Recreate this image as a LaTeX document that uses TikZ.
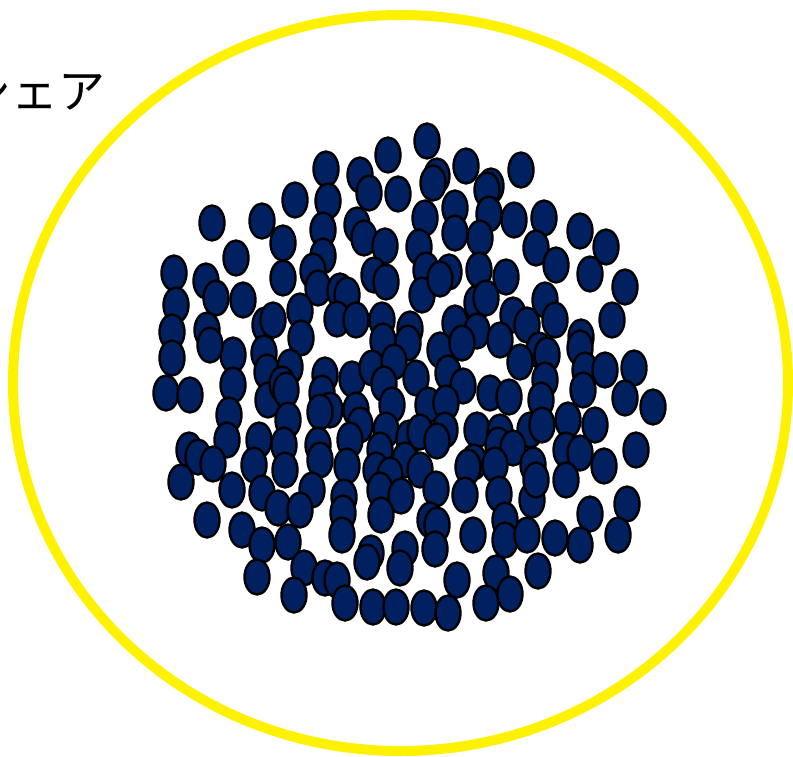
\documentclass[tikz,border=0pt]{standalone}
\usepackage{fontspec}
\newfontfamily\jpfont{Noto Sans CJK JP}
\definecolor{navy}{HTML}{002060}
\tikzset{
  particle/.style={fill=navy,draw=black,line width=2.4pt},
  boundary/.style={draw=yellow,line width=10pt}
}
\begin{document}
\begin{tikzpicture}[x=1pt,y=-1pt]
\useasboundingbox (0,0) rectangle (793,757);
\draw[boundary] (400.5,383) ellipse (387.5 and 368);
\node[anchor=base west,inner sep=0pt,font=\jpfont\fontsize{47}{47}\selectfont] (label) at (-36,109) {シェア};
\foreach \x/\y in {
  427/141, 388/155, 326/169, 360/175, 466/166, 521/170, 437/176,
  369/193, 398/194, 433/183, 491/186, 487/190, 295/200, 328/201,
  455/208, 489/214, 514/220, 544/218, 262/221, 212/223, 425/218, 357/225,
  323/230, 364/238, 385/246, 419/247, 455/233, 480/238, 536/248, 580/231, 606/247,
  236/258, 283/243, 323/256, 556/265,
  174/273, 206/281, 283/278, 313/271, 374/275, 386/282, 426/270, 449/272, 479/270, 506/277, 590/274, 625/287,
  176/305, 216/298, 243/300, 318/288, 340/291, 347/295, 422/295, 440/279, 477/303, 486/298, 545/300,
  172/332, 207/330, 233/355, 265/325, 273/320, 300/311, 337/319, 356/320, 382/320, 410/329, 455/323, 477/331, 513/315, 527/325, 555/320, 581/337, 612/320,
  172/358, 210/345, 264/353, 301/338, 383/341, 408/343, 440/350, 462/343, 500/340, 539/350, 547/355, 580/348,
  233/385, 267/372, 290/367, 325/375, 352/379, 372/368, 394/362, 416/378, 448/373, 463/386, 490/393, 520/362, 545/380, 585/370, 605/370, 634/368,
  166/393, 190/395, 268/400, 282/384, 286/390, 322/393, 330/410, 356/410, 384/384, 392/405, 428/405, 446/403, 509/397, 541/400, 583/390, 625/398, 653/407,
  229/415, 288/420, 320/412, 360/425, 386/430, 409/438, 420/432, 445/430, 477/430, 500/432, 530/430, 542/425, 568/420, 595/425,
  189/450, 198/457, 227/440, 259/440, 284/445, 318/445, 350/440, 380/450, 405/460, 437/441, 474/462, 498/445, 513/448, 566/450, 580/453, 636/450,
  213/464, 254/465, 285/470, 320/460, 347/466, 376/470, 390/475, 420/470, 468/467, 495/465, 533/465, 566/480, 604/466,
  181/482, 232/490, 262/493, 312/490, 344/497, 380/490, 401/496, 436/489, 465/495, 499/494, 532/500, 536/480,
  207/520, 242/530, 278/508, 300/510, 343/513, 381/515, 430/520, 437/525, 473/535, 505/520, 555/538, 590/514, 627/504, 618/535,
  262/545, 288/542, 342/535, 371/553, 405/549, 435/549, 505/540, 527/535, 580/545,
  257/577, 304/568, 325/578, 337/580, 367/562, 400/568, 457/580, 496/573, 538/571,
  294/595, 345/603, 373/607, 396/607, 424/608, 448/613, 486/603, 510/594}
  \draw[particle] (\x,\y) ellipse (12.5 and 17.5);
\end{tikzpicture}
\end{document}
